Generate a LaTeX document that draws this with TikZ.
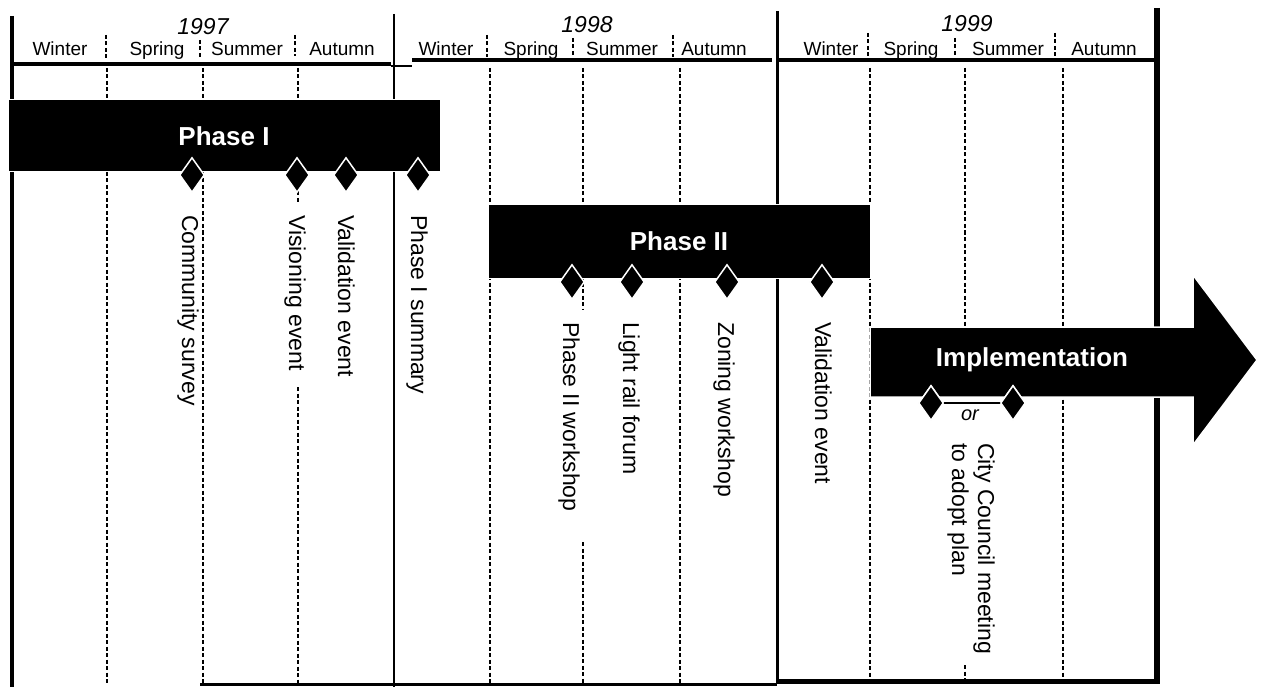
\documentclass[tikz,border=0pt]{standalone}
\usepackage{fontspec}
\setmainfont{Liberation Sans}
\usetikzlibrary{shapes.geometric}
\tikzset{
 gridline/.style={line width=1.1pt, dash pattern=on 4pt off 2.5pt},
 season/.style={anchor=base, inner sep=0pt, font=\fontsize{19}{19}\selectfont},
 yearlbl/.style={inner sep=0pt, font=\fontsize{23}{23}\selectfont\itshape},
 phasebar/.style={fill=black, draw=white, line width=1pt, text=white, inner sep=0pt, font=\fontsize{26}{26}\selectfont\bfseries},
 milestone/.style={diamond, fill=black, draw=white, line width=1.5pt, minimum width=25pt, minimum height=35pt, inner sep=0pt},
 evt/.style={rotate=-90, anchor=base west, inner sep=0pt, font=\fontsize{23}{23}\selectfont},
}
\begin{document}
\begin{tikzpicture}[x=1pt,y=-1pt]
\useasboundingbox (0,0) rectangle (1263,687);
% ---------- dashed season lines (body)
\foreach \x in {107,203,490,680,870,1063}
  \draw[gridline] (\x,68) -- (\x,683);
\draw[gridline] (298,68) -- (298,203);
\draw[gridline] (298,387) -- (298,683);
\draw[gridline] (583,68) -- (583,310);
\draw[gridline] (583,542) -- (583,683);
\draw[gridline] (965,68) -- (965,327);
\draw[gridline] (965,665) -- (965,683);
% ---------- dashed season separators in header
\foreach \x/\a/\b in {106/35/58,200/40/58,295/35/56,487/35/57,573/38/57,673/35/57,868/33/57,955/38/57,1055/33/57}
  \draw[gridline] (\x,\a) -- (\x,\b);
% ---------- solid year lines
\draw[line width=4pt] (12,16) -- (12,687);
\draw[line width=2.6pt] (394,14) -- (394,687);
\draw[line width=3pt] (777,11) -- (777,683);
\draw[line width=6pt] (1157,8) -- (1157,683);
% ---------- header lines
\draw[line width=4.5pt] (12,64) -- (391,64);
\draw[line width=1.2pt] (391,66) -- (412,66);
\draw[line width=4pt] (412,60) -- (772,60);
\draw[line width=4.5pt] (777,60) -- (1157,60);
% ---------- bottom lines
\draw[line width=3pt] (200,684) -- (777,684);
\draw[line width=5pt] (777,681) -- (1160,681);
% ---------- year and season labels
\node[yearlbl] (y97) at (203,27) {1997};
\node[yearlbl] (y98) at (587,25) {1998};
\node[yearlbl] (y99) at (967,24) {1999};
\node[season] (w97) at (60,56) {Winter};
\node[season] (sp97) at (157,56) {Spring};
\node[season] (su97) at (247,56) {Summer};
\node[season] (au97) at (342,56) {Autumn};
\node[season] (w98) at (446,56) {Winter};
\node[season] (sp98) at (531,56) {Spring};
\node[season] (su98) at (622,56) {Summer};
\node[season] (au98) at (714,56) {Autumn};
\node[season] (w99) at (831,56) {Winter};
\node[season] (sp99) at (911,56) {Spring};
\node[season] (su99) at (1008,56) {Summer};
\node[season] (au99) at (1104,56) {Autumn};
% ---------- phase bars
\node[phasebar, minimum width=432pt, minimum height=72pt] (ph1) at (224,136) {Phase I};
\node[phasebar, minimum width=382pt, minimum height=73pt] (ph2) at (679,241.5) {Phase II};
% ---------- implementation arrow
\path[fill=black, draw=white, line width=1.5pt]
  (870,327) -- (1193,327) -- (1193,275) -- (1257,360) -- (1193,445) -- (1193,397) -- (870,397) -- cycle;
\node[text=white, inner sep=0pt, font=\fontsize{26}{26}\selectfont\bfseries] (impl) at (1032,360) {Implementation};
% ---------- milestones
\node[milestone] (m1) at (192,175) {};
\node[milestone] (m2) at (297,175) {};
\node[milestone] (m3) at (346,175) {};
\node[milestone] (m4) at (418,175) {};
\node[milestone] (m5) at (572,282) {};
\node[milestone] (m6) at (632,282) {};
\node[milestone] (m7) at (727,282) {};
\node[milestone] (m8) at (822,282) {};
\node[milestone] (c1) at (931,403) {};
\node[milestone] (c2) at (1013,403) {};
\draw[white, line width=6pt] (c1.center) -- (c2.center);
\draw[black, line width=2.2pt] (c1.center) -- (c2.center);
\node[milestone] at (c1) {};
\node[milestone] at (c2) {};
\node[inner sep=0pt, font=\fontsize{20}{20}\selectfont\itshape] (or) at (970,415) {or};
% ---------- event labels
\node[evt] (l1) at (182,215) {Community survey};
\node[evt] (l2) at (289,215) {Visioning event};
\node[evt] (l3) at (338,215) {Validation event};
\node[evt] (l4) at (411,215) {Phase I summary};
\node[evt] (l5) at (563,322) {Phase II workshop};
\node[evt] (l6) at (623,322) {Light rail forum};
\node[evt] (l7) at (718,322) {Zoning workshop};
\node[evt] (l8) at (815,322) {Validation event};
\node[evt] (l9) at (978,443) {City Council meeting};
\node[evt] (l10) at (952,443) {to adopt plan};
\end{tikzpicture}
\end{document}
